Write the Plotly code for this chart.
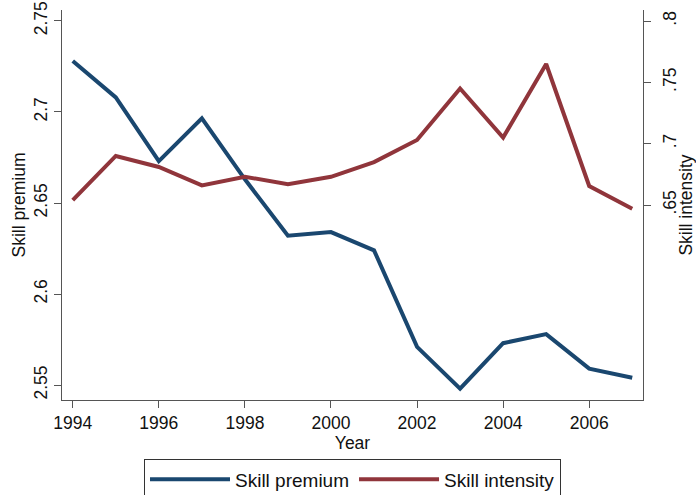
import plotly.graph_objects as go

# Annual series, 1994-2007
years = list(range(1994, 2008))
skill_premium = [2.728, 2.708, 2.673, 2.6965, 2.663, 2.632, 2.634,
                 2.624, 2.571, 2.548, 2.573, 2.578, 2.559, 2.554]
skill_intensity = [0.654, 0.690, 0.681, 0.666, 0.673, 0.667, 0.673,
                   0.685, 0.703, 0.745, 0.705, 0.765, 0.6655, 0.647]

x_ticks = [1994, 1996, 1998, 2000, 2002, 2004, 2006]
left_ticks = [2.55, 2.6, 2.65, 2.7, 2.75]
left_labels = ["2.55", "2.6", "2.65", "2.7", "2.75"]
right_ticks = [0.65, 0.7, 0.75, 0.8]
right_labels = [".65", ".7", ".75", ".8"]

NAVY = "#1a476f"
MAROON = "#90353b"
AXIS = "#555555"
FONT = "Liberation Sans, Arial, sans-serif"

fig = go.Figure()
fig.add_trace(go.Scatter(x=years, y=skill_premium, mode="lines", name="Skill premium",
                         line=dict(color=NAVY, width=4), yaxis="y"))
fig.add_trace(go.Scatter(x=years, y=skill_intensity, mode="lines", name="Skill intensity",
                         line=dict(color=MAROON, width=4), yaxis="y2"))

axis_common = dict(showgrid=False, zeroline=False, showline=True, linecolor=AXIS,
                   linewidth=1.2, ticks="outside", ticklen=7, tickcolor=AXIS,
                   tickwidth=1.2, tickfont=dict(size=17.5, color="#111"))

fig.update_layout(
    width=696, height=495,
    margin=dict(l=62, r=53, t=10, b=95, autoexpand=False),
    paper_bgcolor="white", plot_bgcolor="white",
    font=dict(family=FONT, size=17.5, color="#111"),
    xaxis=dict(range=[1993.75, 2007.25], tickvals=x_ticks,
               title=dict(text="Year", standoff=2, font=dict(size=17.5)),
               **axis_common),
    yaxis=dict(range=[2.5418, 2.756], tickvals=left_ticks, ticktext=left_labels,
               tickangle=-90,
               title=dict(text="Skill premium", standoff=0, font=dict(size=17.5)),
               **axis_common),
    yaxis2=dict(range=[0.491, 0.809], tickvals=right_ticks, ticktext=right_labels,
                overlaying="y", side="right", tickangle=-90, ticklabelstandoff=4,
                title=dict(text="Skill intensity", standoff=0, font=dict(size=17.5)),
                **axis_common),
    legend=dict(orientation="h", x=0.5, xanchor="center", y=-0.152, yanchor="top",
                bordercolor="#333", borderwidth=1, bgcolor="white",
                font=dict(size=19), itemwidth=80, traceorder="normal"),
    showlegend=True,
)

fig.write_html("out.html")
